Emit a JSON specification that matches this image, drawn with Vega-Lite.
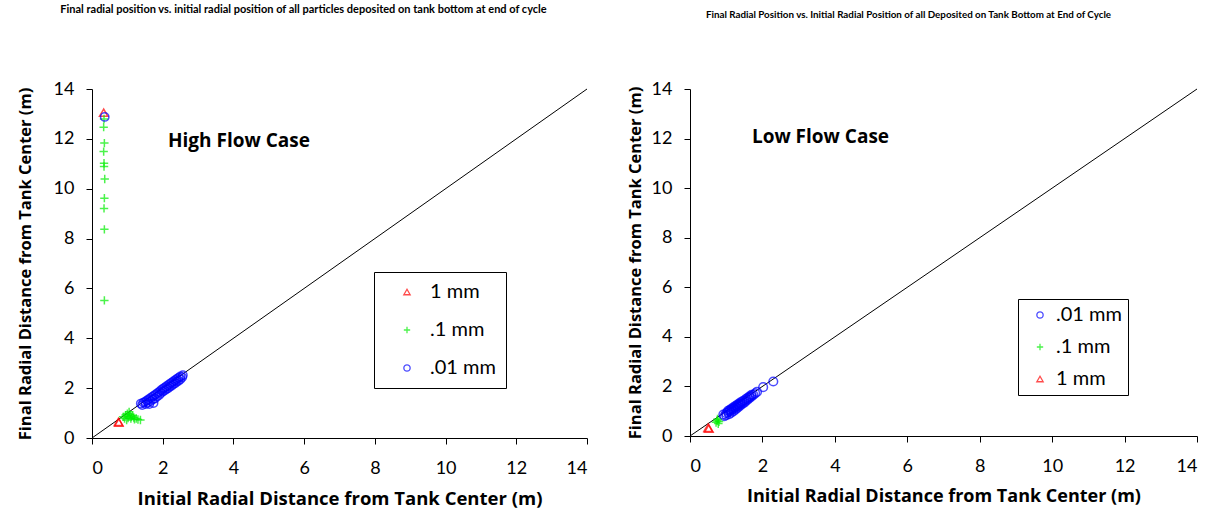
{
  "$schema": "https://vega.github.io/schema/vega-lite/v6.json",
  "background": "white",
  "padding": {"left": 17, "top": 4, "right": 5, "bottom": 2},
  "spacing": 38,
  "config": {
    "font": "Lato",
    "view": {"stroke": null},
    "axis": {
      "grid": false, "domainColor": "black", "tickColor": "black", "tickSize": 6,
      "labelFontSize": 18, "labelColor": "black", "labelFont": "Lato", "labelPadding": 12,
      "titleFontWeight": "bold", "titleColor": "black", "titleFont": "Open Sans"
    },
    "axisX": {"labelPadding": 15, "titleFontSize": 18.5, "titlePadding": 12},
    "axisY": {"titleFontSize": 16.5, "titlePadding": 12},
    "legend": {
      "orient": "none", "strokeColor": "black", "fillColor": "white", "title": null,
      "labelFontSize": 20, "labelFont": "Lato", "labelColor": "black",
      "symbolSize": 40, "symbolStrokeWidth": 1.3
    },
    "title": {"fontWeight": "bold", "font": "Lato", "color": "black"}
  },
  "datasets": {
    "diag": [{"x": 0, "y": 0}, {"x": 14, "y": 14}],
    "high": [
      {"x": 0.33, "y": 13.05, "s": "1 mm"},
      {"x": 0.75, "y": 0.65, "s": "1 mm"},
      {"x": 0.76, "y": 0.62, "s": "1 mm"},
      {"x": 0.34, "y": 12.8, "s": ".1 mm"},
      {"x": 0.33, "y": 12.47, "s": ".1 mm"},
      {"x": 0.35, "y": 11.83, "s": ".1 mm"},
      {"x": 0.33, "y": 11.49, "s": ".1 mm"},
      {"x": 0.34, "y": 11.02, "s": ".1 mm"},
      {"x": 0.34, "y": 10.89, "s": ".1 mm"},
      {"x": 0.36, "y": 10.39, "s": ".1 mm"},
      {"x": 0.35, "y": 9.62, "s": ".1 mm"},
      {"x": 0.34, "y": 9.21, "s": ".1 mm"},
      {"x": 0.35, "y": 8.37, "s": ".1 mm"},
      {"x": 0.35, "y": 5.52, "s": ".1 mm"},
      {"x": 0.88, "y": 0.85, "s": ".1 mm"},
      {"x": 0.92, "y": 0.78, "s": ".1 mm"},
      {"x": 0.95, "y": 0.92, "s": ".1 mm"},
      {"x": 0.98, "y": 0.72, "s": ".1 mm"},
      {"x": 1.0, "y": 0.98, "s": ".1 mm"},
      {"x": 1.02, "y": 0.8, "s": ".1 mm"},
      {"x": 1.05, "y": 0.88, "s": ".1 mm"},
      {"x": 1.05, "y": 1.05, "s": ".1 mm"},
      {"x": 1.08, "y": 0.95, "s": ".1 mm"},
      {"x": 1.1, "y": 0.78, "s": ".1 mm"},
      {"x": 1.12, "y": 0.85, "s": ".1 mm"},
      {"x": 1.15, "y": 0.9, "s": ".1 mm"},
      {"x": 1.18, "y": 0.82, "s": ".1 mm"},
      {"x": 1.2, "y": 0.75, "s": ".1 mm"},
      {"x": 1.25, "y": 0.78, "s": ".1 mm"},
      {"x": 1.3, "y": 0.74, "s": ".1 mm"},
      {"x": 1.37, "y": 0.72, "s": ".1 mm"},
      {"x": 0.36, "y": 12.88, "s": ".01 mm"},
      {"x": 1.38, "y": 1.38, "s": ".01 mm"},
      {"x": 1.42, "y": 1.32, "s": ".01 mm"},
      {"x": 1.45, "y": 1.42, "s": ".01 mm"},
      {"x": 1.5, "y": 1.45, "s": ".01 mm"},
      {"x": 1.52, "y": 1.36, "s": ".01 mm"},
      {"x": 1.55, "y": 1.5, "s": ".01 mm"},
      {"x": 1.58, "y": 1.42, "s": ".01 mm"},
      {"x": 1.6, "y": 1.55, "s": ".01 mm"},
      {"x": 1.62, "y": 1.36, "s": ".01 mm"},
      {"x": 1.65, "y": 1.6, "s": ".01 mm"},
      {"x": 1.66, "y": 1.48, "s": ".01 mm"},
      {"x": 1.7, "y": 1.65, "s": ".01 mm"},
      {"x": 1.72, "y": 1.55, "s": ".01 mm"},
      {"x": 1.74, "y": 1.4, "s": ".01 mm"},
      {"x": 1.75, "y": 1.7, "s": ".01 mm"},
      {"x": 1.78, "y": 1.58, "s": ".01 mm"},
      {"x": 1.8, "y": 1.75, "s": ".01 mm"},
      {"x": 1.84, "y": 1.66, "s": ".01 mm"},
      {"x": 1.85, "y": 1.8, "s": ".01 mm"},
      {"x": 1.9, "y": 1.72, "s": ".01 mm"},
      {"x": 1.9, "y": 1.85, "s": ".01 mm"},
      {"x": 1.95, "y": 1.8, "s": ".01 mm"},
      {"x": 1.95, "y": 1.92, "s": ".01 mm"},
      {"x": 2.0, "y": 1.86, "s": ".01 mm"},
      {"x": 2.0, "y": 1.97, "s": ".01 mm"},
      {"x": 2.05, "y": 1.9, "s": ".01 mm"},
      {"x": 2.05, "y": 2.02, "s": ".01 mm"},
      {"x": 2.1, "y": 1.96, "s": ".01 mm"},
      {"x": 2.1, "y": 2.07, "s": ".01 mm"},
      {"x": 2.15, "y": 2.0, "s": ".01 mm"},
      {"x": 2.15, "y": 2.12, "s": ".01 mm"},
      {"x": 2.2, "y": 2.06, "s": ".01 mm"},
      {"x": 2.2, "y": 2.17, "s": ".01 mm"},
      {"x": 2.25, "y": 2.1, "s": ".01 mm"},
      {"x": 2.25, "y": 2.22, "s": ".01 mm"},
      {"x": 2.3, "y": 2.16, "s": ".01 mm"},
      {"x": 2.3, "y": 2.27, "s": ".01 mm"},
      {"x": 2.35, "y": 2.2, "s": ".01 mm"},
      {"x": 2.35, "y": 2.32, "s": ".01 mm"},
      {"x": 2.4, "y": 2.26, "s": ".01 mm"},
      {"x": 2.4, "y": 2.37, "s": ".01 mm"},
      {"x": 2.45, "y": 2.3, "s": ".01 mm"},
      {"x": 2.45, "y": 2.42, "s": ".01 mm"},
      {"x": 2.5, "y": 2.36, "s": ".01 mm"},
      {"x": 2.5, "y": 2.47, "s": ".01 mm"},
      {"x": 2.55, "y": 2.44, "s": ".01 mm"},
      {"x": 2.57, "y": 2.52, "s": ".01 mm"}
    ],
    "low": [
      {"x": 0.92, "y": 0.86, "s": ".01 mm"},
      {"x": 0.95, "y": 0.8, "s": ".01 mm"},
      {"x": 1.0, "y": 0.92, "s": ".01 mm"},
      {"x": 1.0, "y": 0.84, "s": ".01 mm"},
      {"x": 1.05, "y": 0.96, "s": ".01 mm"},
      {"x": 1.05, "y": 1.02, "s": ".01 mm"},
      {"x": 1.08, "y": 0.88, "s": ".01 mm"},
      {"x": 1.1, "y": 1.0, "s": ".01 mm"},
      {"x": 1.1, "y": 1.06, "s": ".01 mm"},
      {"x": 1.14, "y": 0.94, "s": ".01 mm"},
      {"x": 1.15, "y": 1.05, "s": ".01 mm"},
      {"x": 1.15, "y": 1.11, "s": ".01 mm"},
      {"x": 1.2, "y": 1.0, "s": ".01 mm"},
      {"x": 1.2, "y": 1.1, "s": ".01 mm"},
      {"x": 1.2, "y": 1.16, "s": ".01 mm"},
      {"x": 1.25, "y": 1.06, "s": ".01 mm"},
      {"x": 1.25, "y": 1.15, "s": ".01 mm"},
      {"x": 1.25, "y": 1.21, "s": ".01 mm"},
      {"x": 1.3, "y": 1.12, "s": ".01 mm"},
      {"x": 1.3, "y": 1.2, "s": ".01 mm"},
      {"x": 1.3, "y": 1.26, "s": ".01 mm"},
      {"x": 1.35, "y": 1.18, "s": ".01 mm"},
      {"x": 1.35, "y": 1.25, "s": ".01 mm"},
      {"x": 1.35, "y": 1.31, "s": ".01 mm"},
      {"x": 1.4, "y": 1.24, "s": ".01 mm"},
      {"x": 1.4, "y": 1.3, "s": ".01 mm"},
      {"x": 1.4, "y": 1.36, "s": ".01 mm"},
      {"x": 1.45, "y": 1.3, "s": ".01 mm"},
      {"x": 1.45, "y": 1.4, "s": ".01 mm"},
      {"x": 1.5, "y": 1.35, "s": ".01 mm"},
      {"x": 1.5, "y": 1.44, "s": ".01 mm"},
      {"x": 1.55, "y": 1.42, "s": ".01 mm"},
      {"x": 1.55, "y": 1.5, "s": ".01 mm"},
      {"x": 1.6, "y": 1.48, "s": ".01 mm"},
      {"x": 1.6, "y": 1.55, "s": ".01 mm"},
      {"x": 1.65, "y": 1.54, "s": ".01 mm"},
      {"x": 1.65, "y": 1.6, "s": ".01 mm"},
      {"x": 1.7, "y": 1.6, "s": ".01 mm"},
      {"x": 1.7, "y": 1.66, "s": ".01 mm"},
      {"x": 1.75, "y": 1.66, "s": ".01 mm"},
      {"x": 1.8, "y": 1.72, "s": ".01 mm"},
      {"x": 1.85, "y": 1.78, "s": ".01 mm"},
      {"x": 2.02, "y": 1.97, "s": ".01 mm"},
      {"x": 2.3, "y": 2.2, "s": ".01 mm"},
      {"x": 0.72, "y": 0.55, "s": ".1 mm"},
      {"x": 0.75, "y": 0.62, "s": ".1 mm"},
      {"x": 0.78, "y": 0.5, "s": ".1 mm"},
      {"x": 0.8, "y": 0.58, "s": ".1 mm"},
      {"x": 0.76, "y": 0.68, "s": ".1 mm"},
      {"x": 0.5, "y": 0.33, "s": "1 mm"},
      {"x": 0.52, "y": 0.3, "s": "1 mm"}
    ],
    "labHigh": [{"x": 2.15, "y": 11.9, "t": "High Flow Case"}],
    "labLow": [{"x": 1.71, "y": 12.07, "t": "Low Flow Case"}]
  },
  "hconcat": [
    {
      "width": 495, "height": 349,
      "title": {"text": "Final radial position vs. initial radial position of all particles deposited on tank bottom at end of cycle", "offset": 65, "dx": -36, "fontSize": 11},
      "layer": [
        {
          "data": {"name": "diag"},
          "mark": {"type": "line", "color": "black", "strokeWidth": 1},
          "encoding": {
            "x": {"field": "x", "type": "quantitative", "scale": {"domain": [0, 14], "nice": false}, "axis": {"values": [0, 2, 4, 6, 8, 10, 12, 14], "title": "Initial Radial Distance from Tank Center (m)"}},
            "y": {"field": "y", "type": "quantitative", "scale": {"domain": [0, 14], "nice": false}, "axis": {"values": [0, 2, 4, 6, 8, 10, 12, 14], "title": "Final Radial Distance from Tank Center (m)", "titlePadding": 20}}
          }
        },
        {
          "data": {"name": "high"},
          "mark": {"type": "point", "filled": false, "strokeWidth": 1.5, "size": 70},
          "encoding": {
            "x": {"field": "x", "type": "quantitative"},
            "y": {"field": "y", "type": "quantitative"},
            "color": {"field": "s", "type": "nominal", "scale": {"domain": ["1 mm", ".1 mm", ".01 mm"], "range": ["#ff0000", "#00ee00", "#0000ff"]},
              "legend": {"legendX": 282, "legendY": 183, "padding": 10, "symbolOffset": 13, "rowPadding": 18, "labelOffset": 13, "symbolSize": 40}},
            "shape": {"field": "s", "type": "nominal", "scale": {"domain": ["1 mm", ".1 mm", ".01 mm"], "range": ["triangle-up", "M-1,0H1M0,-1V1", "circle"]}}
          }
        },
        {
          "data": {"name": "labHigh"},
          "mark": {"type": "text", "fontSize": 19, "font": "Open Sans", "fontWeight": "bold", "align": "left", "baseline": "middle", "color": "black"},
          "encoding": {
            "x": {"field": "x", "type": "quantitative"},
            "y": {"field": "y", "type": "quantitative"},
            "text": {"field": "t"}
          }
        }
      ]
    },
    {
      "width": 507, "height": 347,
      "title": {"text": "Final Radial Position vs. Initial Radial Position of all Deposited on Tank Bottom at End of Cycle", "offset": 60, "dx": -35, "fontSize": 9.8},
      "layer": [
        {
          "data": {"name": "diag"},
          "mark": {"type": "line", "color": "black", "strokeWidth": 1},
          "encoding": {
            "x": {"field": "x", "type": "quantitative", "scale": {"domain": [0, 14], "nice": false}, "axis": {"values": [0, 2, 4, 6, 8, 10, 12, 14], "title": "Initial Radial Distance from Tank Center (m)", "titleFontSize": 18}},
            "y": {"field": "y", "type": "quantitative", "scale": {"domain": [0, 14], "nice": false}, "axis": {"values": [0, 2, 4, 6, 8, 10, 12, 14], "title": "Final Radial Distance from Tank Center (m)", "titlePadding": 8}}
          }
        },
        {
          "data": {"name": "low"},
          "mark": {"type": "point", "filled": false, "strokeWidth": 1.5, "size": 75},
          "encoding": {
            "x": {"field": "x", "type": "quantitative"},
            "y": {"field": "y", "type": "quantitative"},
            "color": {"field": "s", "type": "nominal", "scale": {"domain": [".01 mm", ".1 mm", "1 mm"], "range": ["#0000ff", "#00ee00", "#ff0000"]},
              "legend": {"legendX": 328, "legendY": 210, "padding": 6, "symbolOffset": 6, "rowPadding": 12, "labelOffset": 6, "symbolSize": 40}},
            "shape": {"field": "s", "type": "nominal", "scale": {"domain": [".01 mm", ".1 mm", "1 mm"], "range": ["circle", "M-1,0H1M0,-1V1", "triangle-up"]}}
          }
        },
        {
          "data": {"name": "labLow"},
          "mark": {"type": "text", "fontSize": 19, "font": "Open Sans", "fontWeight": "bold", "align": "left", "baseline": "middle", "color": "black"},
          "encoding": {
            "x": {"field": "x", "type": "quantitative"},
            "y": {"field": "y", "type": "quantitative"},
            "text": {"field": "t"}
          }
        }
      ]
    }
  ],
  "resolve": {"scale": {"color": "independent", "shape": "independent", "x": "independent", "y": "independent"}}
}
